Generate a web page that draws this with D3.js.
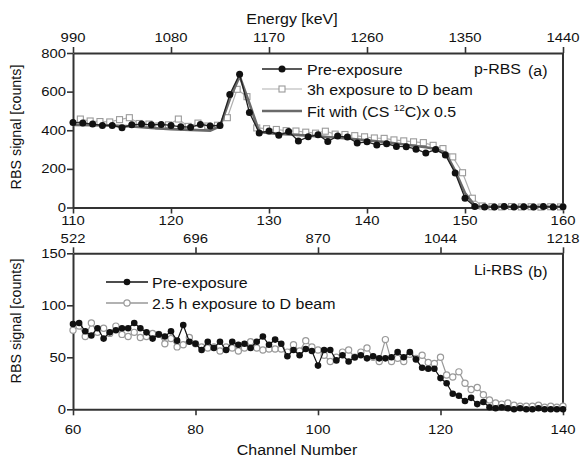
<!DOCTYPE html>
<html><head><meta charset="utf-8">
<script src="https://cdn.jsdelivr.net/npm/d3@7"></script>
<style>body{margin:0;background:#fff}svg text{font-family:"Liberation Sans",Arial,sans-serif;fill:#111}</style>
</head><body><svg id="c" width="582" height="459"></svg>
<script>
// ---------- DATA ----------
// Panel (a) p-RBS: channels 110..160
const chanA = d3.range(110, 161);
const preA = [440,438,432,425,425,413,428,432,428,430,425,418,416,430,422,425,585,690,492,386,
  396,374,393,344,366,377,342,370,365,334,340,324,330,316,315,302,282,300,272,178,
  48,5,3,2,5,2,4,3,5,3,4];
const expShiftA = 0.75; // 3h exposure spectrum sampled between channels
const expA = [458,448,445,443,455,465,435,432,422,428,458,420,437,422,426,465,612,574,412,408,
  404,398,396,390,385,395,380,378,372,366,360,358,350,345,340,336,322,305,262,180,
  48,8,4,3,5,3,4,2,4,3];
const fitChanA = [110,112,114,116,118,120,122,124,125,126,127,128,129,130,132,134,136,138,140,142,144,146,147,148,149,150,151,152,156,160];
const fitA     = [427,426,424,420,412,406,402,398,420,560,680,540,392,385,378,372,365,357,348,338,325,312,303,285,190,75,10,4,4,4];
// Panel (b) Li-RBS: channels 60..140
const chanB = d3.range(60, 141);
const preB = [82,83,75,71,78,68,74,76,78,78,83,78,74,68,72,70,75,66,81,65,
  63,57,65,59,65,57,65,62,63,59,65,70,62,67,63,51,57,52,58,56,
  42,57,57,47,52,46,50,52,49,51,49,49,50,55,50,55,48,40,39,39,
  30,25,15,13,8,11,5,7,2,1,2,1,0,1,0,0,1,0,0,0,0];
const expB = [76,80,70,83,74,78,73,80,72,70,74,69,70,73,72,63,68,60,62,69,
  63,60,59,60,56,60,59,56,59,65,59,57,58,58,58,55,62,56,66,60,
  57,52,46,50,55,57,50,55,59,50,46,67,46,49,46,53,49,52,45,44,
  50,33,31,36,25,19,21,14,9,6,5,6,4,3,3,3,4,2,3,2,3];
// tick labels
const yTicksA = [0,200,400,600,800];
const xTicksA = [110,120,130,140,150,160];
const eTicksA = [990,1080,1170,1260,1350,1440];
const yTicksB = [0,50,100,150];
const xTicksB = [60,80,100,120,140];
const eTicksB = [522,696,870,1044,1218];

// ---------- DRAW ----------
const svg = d3.select("#c");
const L = 73, R = 563;
const xA = d3.scaleLinear().domain([110,160]).range([L,R]);
const yA = d3.scaleLinear().domain([0,800]).range([207.5,53]);
const eA = d3.scaleLinear().domain([990,1440]).range([L,R]);
const xB = d3.scaleLinear().domain([60,140]).range([L,R]);
const yB = d3.scaleLinear().domain([0,150]).range([409.3,253.3]);
const eB = d3.scaleLinear().domain([522,1218]).range([L,R]);
const AX = "#333", SX = 1.1;

function txt(x, y, s, anchor, size, g) {
  return (g || svg).append("text")
    .attr("transform", `translate(${x},${y}) scale(${SX},1)`)
    .attr("text-anchor", anchor || "middle")
    .attr("font-size", size || 13.5).text(s);
}

function axis(gen, scale, majors, minorStep, transform) {
  const [a, b] = scale.domain();
  const minors = d3.range(a, b + 1e-6, minorStep);
  const g = svg.append("g").attr("transform", transform);
  g.call(gen(scale).tickValues(minors).tickSize(3).tickSizeOuter(0).tickFormat(""));
  g.call(gen(scale).tickValues(majors).tickSize(6).tickSizeOuter(0).tickFormat(""));
  g.selectAll("path.domain").attr("stroke", AX).attr("stroke-width", 2);
  g.selectAll(".tick line").attr("stroke", AX).attr("stroke-width", 1.6);
  return g;
}

function panel(x, y, e, yT, xT, eT, yMinor, xMinor, eMinor, top, bottom, xLblY, eLblY) {
  axis(d3.axisLeft, y, yT, yMinor, `translate(${L},0)`);
  axis(d3.axisBottom, x, xT, xMinor, `translate(0,${bottom})`);
  axis(d3.axisTop, e, eT, eMinor, `translate(0,${top})`);
  svg.append("line").attr("x1", R).attr("x2", R).attr("y1", top).attr("y2", bottom)
    .attr("stroke", AX).attr("stroke-width", 2);
  yT.forEach(v => txt(66, y(v) + 4.5, v, "end"));
  xT.forEach(v => txt(x(v), xLblY, v));
  eT.forEach(v => txt(e(v), eLblY, v));
}

panel(xA, yA, eA, yTicksA, xTicksA, eTicksA, 50, 2.5, 22.5, 53, 207.5, 225, 42);
panel(xB, yB, eB, yTicksB, xTicksB, eTicksB, 12.5, 5, 43.5, 253.3, 409.3, 434, 243);

// ----- panel (a) series -----
const ptsPreA = chanA.map((c, i) => [c, preA[i]]);
const ptsExpA = expA.map((v, i) => [chanA[i] + expShiftA, v]);
const ptsFitA = fitChanA.map((c, i) => [c, fitA[i]]);
const lineA = d3.line().x(d => xA(d[0])).y(d => yA(d[1]));

svg.append("path").attr("d", lineA(ptsExpA)).attr("fill", "none").attr("stroke", "#b0b0b0").attr("stroke-width", 1.2);
svg.append("g").selectAll("rect").data(ptsExpA).join("rect")
  .attr("x", d => xA(d[0]) - 3).attr("y", d => yA(d[1]) - 3).attr("width", 6).attr("height", 6)
  .attr("fill", "#fff").attr("stroke", "#9a9a9a").attr("stroke-width", 1.1);
svg.append("path").attr("d", lineA(ptsFitA)).attr("fill", "none").attr("stroke", "#6a6a6a").attr("stroke-width", 2.6);
svg.append("path").attr("d", lineA(ptsPreA)).attr("fill", "none").attr("stroke", "#222").attr("stroke-width", 1.3);
svg.append("g").selectAll("circle").data(ptsPreA).join("circle")
  .attr("cx", d => xA(d[0])).attr("cy", d => yA(d[1])).attr("r", 3.5).attr("fill", "#111");

// ----- panel (b) series -----
const ptsPreB = chanB.map((c, i) => [c, preB[i]]);
const ptsExpB = chanB.map((c, i) => [c, expB[i]]);
const lineB = d3.line().x(d => xB(d[0])).y(d => yB(d[1]));
svg.append("path").attr("d", lineB(ptsExpB)).attr("fill", "none").attr("stroke", "#999").attr("stroke-width", 1.2);
svg.append("g").selectAll("circle").data(ptsExpB).join("circle")
  .attr("cx", d => xB(d[0])).attr("cy", d => yB(d[1])).attr("r", 3.1)
  .attr("fill", "#fff").attr("stroke", "#9a9a9a").attr("stroke-width", 1.2);
svg.append("path").attr("d", lineB(ptsPreB)).attr("fill", "none").attr("stroke", "#111").attr("stroke-width", 1.2);
svg.append("g").selectAll("circle").data(ptsPreB).join("circle")
  .attr("cx", d => xB(d[0])).attr("cy", d => yB(d[1])).attr("r", 3.3).attr("fill", "#111");

// ----- legends -----
function legLine(x1, x2, y, col, w) {
  svg.append("line").attr("x1", x1).attr("x2", x2).attr("y1", y).attr("y2", y).attr("stroke", col).attr("stroke-width", w);
}
// (a)
legLine(262, 302, 69, "#222", 1.3);
svg.append("circle").attr("cx", 282).attr("cy", 69).attr("r", 3.5).attr("fill", "#111");
txt(307, 74.5, "Pre-exposure", "start", 14.5);
legLine(262, 302, 89, "#b0b0b0", 1.2);
svg.append("rect").attr("x", 279).attr("y", 86).attr("width", 6).attr("height", 6)
  .attr("fill", "#fff").attr("stroke", "#9a9a9a").attr("stroke-width", 1.1);
txt(307, 94.5, "3h exposure to D beam", "start", 14.5);
legLine(262, 302, 111, "#6a6a6a", 2.6);
const fitT = txt(307, 116.5, "", "start", 14.5);
fitT.append("tspan").text("Fit with (CS ");
fitT.append("tspan").attr("font-size", 9).attr("dy", -6).text("12");
fitT.append("tspan").attr("dy", 6).text("C)x 0.5");
txt(474, 74, "p-RBS", "start", 14.5);
txt(528, 76, "(a)", "start", 14.5);
// (b)
legLine(106, 148, 282, "#111", 1.3);
svg.append("circle").attr("cx", 127).attr("cy", 282).attr("r", 3.3).attr("fill", "#111");
txt(152, 287.5, "Pre-exposure", "start", 14.5);
legLine(106, 148, 303, "#999", 1.3);
svg.append("circle").attr("cx", 127).attr("cy", 303).attr("r", 3.1)
  .attr("fill", "#fff").attr("stroke", "#9a9a9a").attr("stroke-width", 1.2);
txt(152, 308.5, "2.5 h exposure to D beam", "start", 14.5);
txt(474, 275, "Li-RBS", "start", 14);
txt(528, 277, "(b)", "start", 14.5);

// ----- axis titles -----
txt(292, 24, "Energy [keV]", "middle", 14.5);
txt(297, 455, "Channel Number", "middle", 14.5);
svg.append("text").attr("transform", "translate(21,127) rotate(-90)").attr("text-anchor", "middle")
  .attr("font-size", 14.3).text("RBS signal [counts]");
svg.append("text").attr("transform", "translate(21,321) rotate(-90)").attr("text-anchor", "middle")
  .attr("font-size", 14.3).text("RBS signal [counts]");
</script></body></html>
